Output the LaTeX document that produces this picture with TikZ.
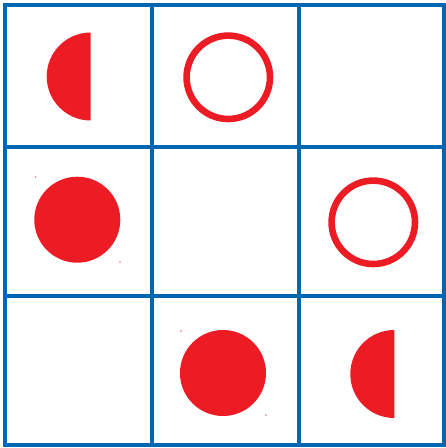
\documentclass[tikz,border=0pt]{standalone}
\definecolor{gridblue}{RGB}{0,103,178}
\definecolor{dotred}{RGB}{237,28,36}
\tikzset{
  gridline/.style={draw=gridblue, line width=4pt, line cap=rect},
  disc/.style={fill=dotred},
  ring/.style={draw=dotred, line width=6.6pt},
  speck/.style={fill=dotred!70}
}
\begin{document}
\begin{tikzpicture}[x=1pt,y=-1pt]
\useasboundingbox (0,0) rectangle (446,448);
% grid
\foreach \x in {5,152,299,444} \draw[gridline] (\x,5) -- (\x,445);
\foreach \y in {5,147,296,445} \draw[gridline] (5,\y) -- (444,\y);
% half discs
\fill[disc] (90.7,32.5) arc[start angle=-90, end angle=-270, radius=44] -- cycle;
\fill[disc] (394.3,330) arc[start angle=-90, end angle=-270, radius=44] -- cycle;
% full discs
\fill[disc] (77.3,219.7) circle[radius=43];
\fill[disc] (223,373) circle[radius=43];
% rings
\draw[ring] (228.3,77.3) circle[radius=41.7];
\draw[ring] (373.3,222.3) circle[radius=41.7];
% specks
\fill[speck] (35.7,177) circle[radius=0.8];
\fill[speck] (120,262) circle[radius=0.8];
\fill[speck] (181,331) circle[radius=0.8];
\fill[speck] (266,415) circle[radius=0.8];
\end{tikzpicture}
\end{document}
